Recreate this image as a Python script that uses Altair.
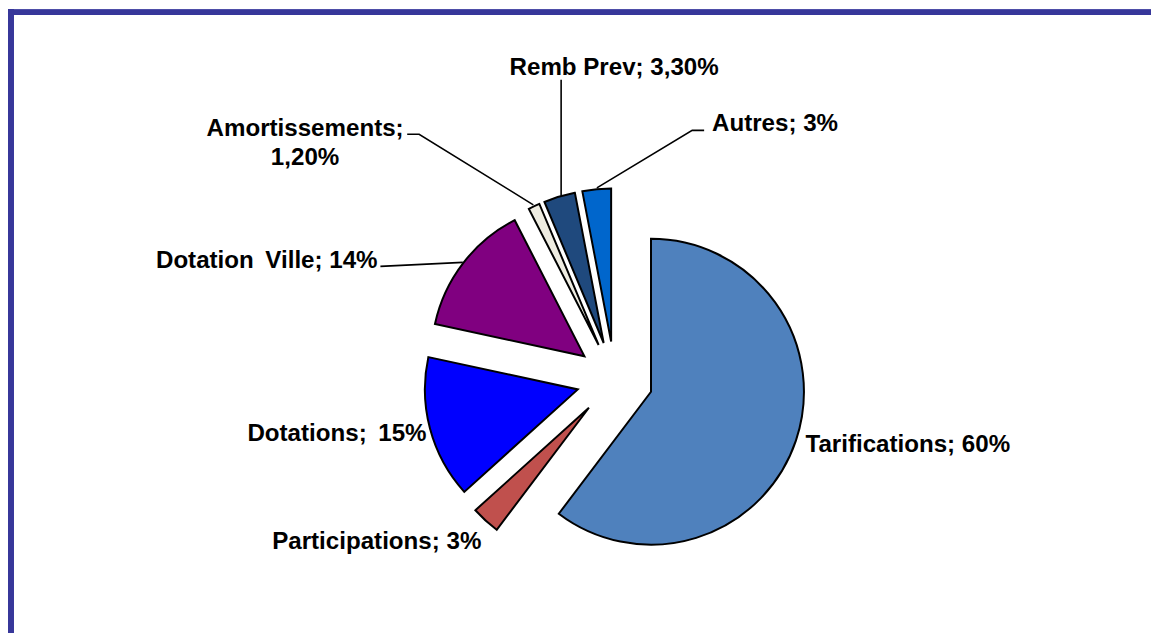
import math
import altair as alt
import pandas as pd

# ---- data ----
categories = ["Tarifications", "Participations", "Dotations", "Dotation\u2009 Ville",
              "Amortissements", "Remb Prev", "Autres"]
values = [60, 3, 15, 14, 1.2, 3.3, 3]
value_labels = ["60%", "3%", "15%", "14%", "1,20%", "3,30%", "3%"]
colors = ["#4F81BD", "#C0504D", "#0000FF", "#800080", "#EEECE1", "#1F497D", "#0066CC"]

# ---- layout (in units of pie radius, relative to pie centre) ----
R_PX = 154          # pie radius in pixels
EXPLODE = 0.25      # explosion distance (radius units)
W, H = 1140, 623    # plot area
CX, CY = 608, 370   # pie centre within plot area (px)
# label anchors: (u, v, align)
label_layout = [
    (1.247, -0.474, "left"),
    (-2.240, -1.110, "left"),
    (-2.402, -0.403, "left"),
    (-3.000, 0.727, "left"),
    (-2.025, 1.591, "center"),
    (-0.688, 1.992, "left"),
    (0.636, 1.628, "left"),
]
label_sep = ["; ", "; ", ";\u2009 ", "; ", ";\n", "; ", "; "]
# leader lines, reference-pixel polylines converted to radius units relative to centre
leader_px = {
    "Dotation\u2009 Ville": [(379, 266), (462, 262)],
    "Amortissements": [(406, 133), (418, 133), (533, 204)],
    "Remb Prev": [(561, 78), (561, 195)],
    "Autres": [(705, 129), (693, 129), (597, 187)],
}
PAGE_CX, PAGE_CY = 615, 380

total = sum(values)
rows = []
cum = 0.0
for c, v in zip(categories, values):
    start, end = cum, cum + v
    mid = (start + end) / 2 / total * 2 * math.pi
    rows.append(dict(category=c, start=start, end=end,
                     ex=EXPLODE * math.sin(mid), ey=EXPLODE * math.cos(mid)))
    cum = end
slices = pd.DataFrame(rows)

lab_rows = []
for c, vl, sep, (u, v, a) in zip(categories, value_labels, label_sep, label_layout):
    lab_rows.append(dict(category=c, text=c + sep + vl, u=u, v=v, align=a))
labels = pd.DataFrame(lab_rows)

lead_rows = []
for c, pts in leader_px.items():
    for i, (px, py) in enumerate(pts):
        lead_rows.append(dict(category=c, seq=i,
                              u=(px - PAGE_CX) / R_PX, v=(PAGE_CY - py) / R_PX))
leaders = pd.DataFrame(lead_rows)

xscale = alt.Scale(domain=[-CX / R_PX, (W - CX) / R_PX], nice=False, zero=False)
yscale = alt.Scale(domain=[-(H - CY) / R_PX, CY / R_PX], nice=False, zero=False)

arcs = alt.Chart(slices).mark_arc(radius=R_PX, stroke="black", strokeWidth=2).encode(
    theta=alt.Theta("start:Q", stack=None,
                    scale=alt.Scale(domain=[0, total], range=[0, 2 * math.pi])),
    theta2=alt.Theta2("end:Q"),
    x=alt.X("ex:Q", scale=xscale, axis=None),
    y=alt.Y("ey:Q", scale=yscale, axis=None),
    color=alt.Color("category:N", scale=alt.Scale(domain=categories, range=colors),
                    legend=None),
)

lines = alt.Chart(leaders).mark_line(color="black", strokeWidth=1.6).encode(
    x=alt.X("u:Q", scale=xscale, axis=None),
    y=alt.Y("v:Q", scale=yscale, axis=None),
    detail="category:N",
    order="seq:Q",
)

def text_layer(align):
    return alt.Chart(labels[labels["align"] == align]).mark_text(
        font="Liberation Sans", fontWeight="bold", fontSize=24.3, color="black",
        align=align, baseline="alphabetic", lineBreak="\n", lineHeight=29,
    ).encode(
        x=alt.X("u:Q", scale=xscale, axis=None),
        y=alt.Y("v:Q", scale=yscale, axis=None),
        text="text:N",
    )

border_col = "#37379A"
top_rule = alt.Chart(slices).mark_rule(color=border_col, strokeWidth=5).encode(
    x=alt.value(-3), x2=alt.value(W + 10), y=alt.value(0))
left_rule = alt.Chart(slices).mark_rule(color=border_col, strokeWidth=5).encode(
    x=alt.value(0), y=alt.value(-3), y2=alt.value(H + 10))

chart = alt.layer(arcs, lines, text_layer("left"), text_layer("center"),
                  top_rule, left_rule).properties(
    width=W, height=H,
    autosize=alt.AutoSizeParams(type="none"),
    padding={"left": 3, "top": 2, "right": 8, "bottom": 0},
).configure_view(stroke=None)

chart.save("out.html", embed_options={"renderer": "svg", "actions": False})
